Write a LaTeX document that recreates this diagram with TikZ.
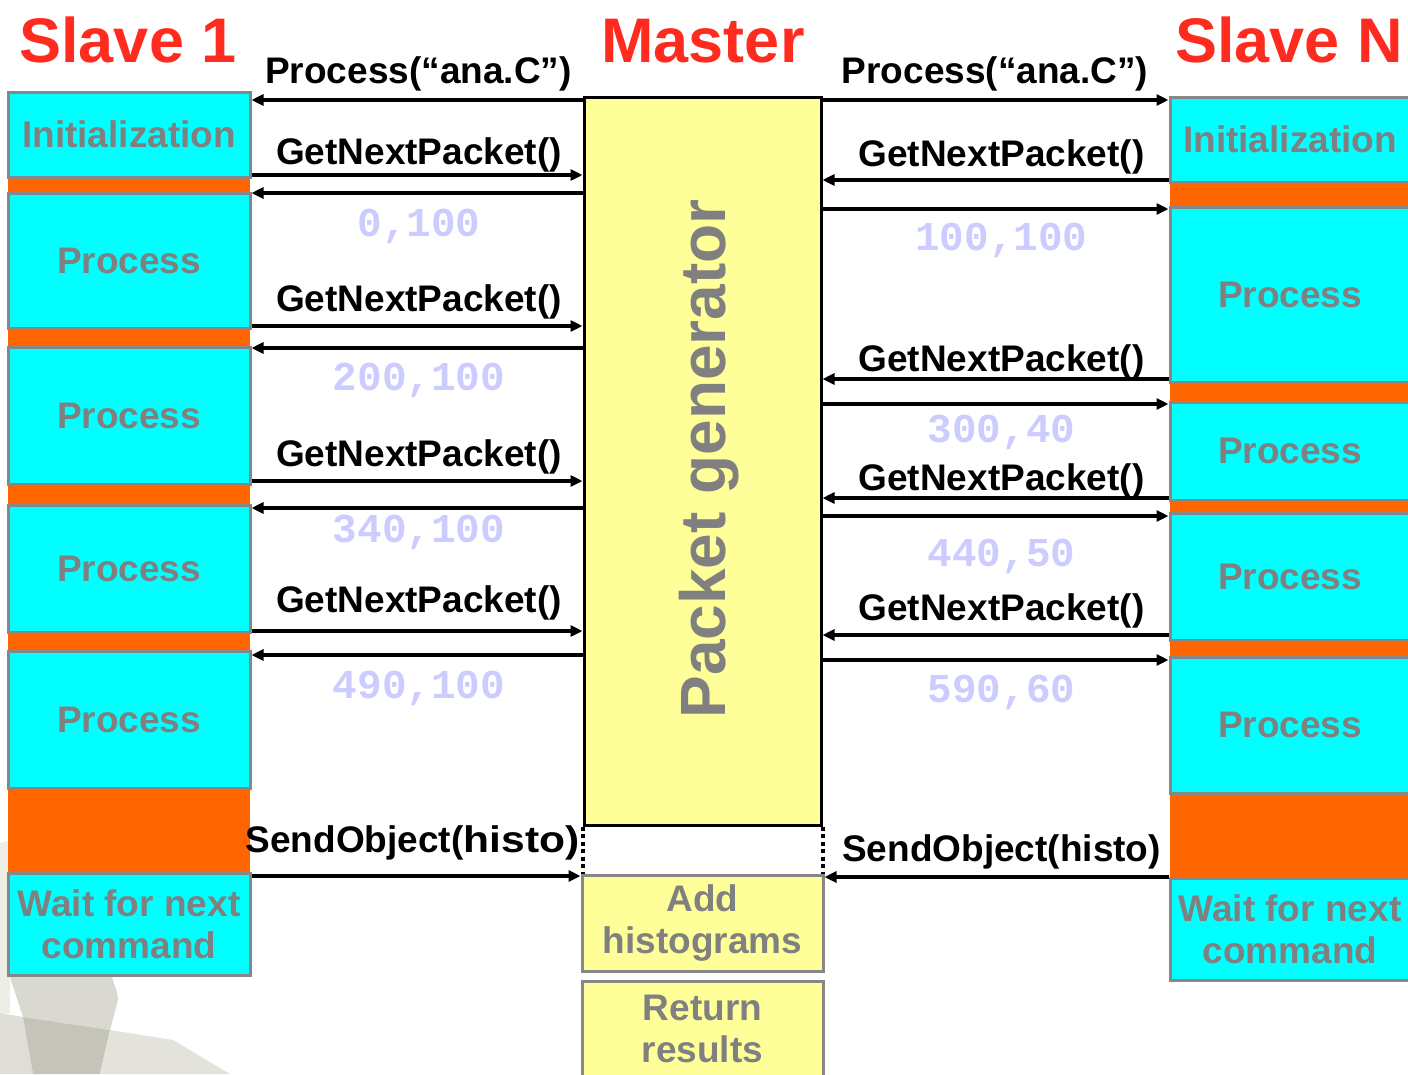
\documentclass[tikz,border=0pt]{standalone}
\usepackage{fontspec}
\usepackage{graphicx}
\setmainfont{Liberation Sans}
\newfontfamily\monofnt{Liberation Mono}
\usetikzlibrary{arrows.meta}

\definecolor{boxcyan}{HTML}{00FFFF}
\definecolor{boxorange}{HTML}{FF6600}
\definecolor{boxyellow}{HTML}{FFFF99}
\definecolor{edgegray}{HTML}{878787}
\definecolor{labgray}{HTML}{808080}
\definecolor{titlered}{HTML}{FF2B1F}
\definecolor{numblue}{HTML}{CCCCFF}
\definecolor{bgA}{HTML}{EEEEE6}
\definecolor{bgB}{HTML}{D9D9D2}
\definecolor{bgC}{HTML}{C4C4B8}
\definecolor{bgD}{HTML}{DEDED6}
\definecolor{bgE}{HTML}{E3E3DB}

\newcommand\ttlfnt{\bfseries\fontsize{63}{70}\selectfont}
\newcommand\msgfnt{\bfseries\fontsize{37}{41}\selectfont}
\newcommand\boxfnt{\bfseries\fontsize{37}{42}\selectfont}
\newcommand\genfnt{\bfseries\fontsize{64}{70}\selectfont}
\newcommand\numfnt{\monofnt\bfseries\fontsize{41}{45}\selectfont}

\tikzset{
  cybox/.style={draw=edgegray, line width=3pt, fill=boxcyan, text=labgray,
    font=\boxfnt, align=center, inner sep=0pt, minimum width=242pt},
  ylbox/.style={draw=edgegray, line width=3pt, fill=boxyellow, text=labgray,
    font=\boxfnt, align=center, inner sep=0pt, minimum width=241pt},
  msg/.style={font=\msgfnt, anchor=base, inner sep=0pt},
  num/.style={font=\numfnt, text=numblue, anchor=base, inner sep=0pt},
  ttl/.style={font=\ttlfnt, text=titlered, anchor=base, inner sep=0pt},
  arr/.style={line width=4.5pt, -{Triangle[length=12pt,width=11pt]}},
  dotline/.style={line width=4pt, dash pattern=on 4pt off 3.5pt},
}

\begin{document}
\begin{tikzpicture}[x=1pt,y=-1pt]
\useasboundingbox (0,0) rectangle (1408,1074);

% faint backdrop shapes, lower left corner
\fill[bgA] (0,843) -- (10,840) -- (10,1013) -- (0,1013) -- cycle;
\fill[bgB] (10,977) -- (112,977) -- (117,992) -- (118,1000) -- (110,1030) -- (23,1017) -- cycle;
\fill[bgD] (0,1013) -- (23,1017) -- (33,1074) -- (0,1074) -- cycle;
\fill[bgC] (23,1017) -- (110,1030) -- (100,1074) -- (33,1074) -- cycle;
\fill[bgE] (110,1030) -- (173,1040) -- (230,1074) -- (100,1074) -- cycle;

% titles
\node[ttl] (t1) at (128,62) {Slave 1};
\node[ttl] (tm) at (703,62) {Master};
\node[ttl] (tn) at (1289,62) {Slave N};

% slave 1 time line
\fill[boxorange] (8,177) rectangle (250,873);
\node[cybox, minimum height=85pt]  (s1init) at (129,134.5) {Initialization};
\node[cybox, minimum height=135pt] (s1pa)   at (129,260.5) {Process};
\node[cybox, minimum height=137pt] (s1pb)   at (129,415.5) {Process};
\node[cybox, minimum height=127pt] (s1pc)   at (129,568.5) {Process};
\node[cybox, minimum height=137pt] (s1pd)   at (129,719.5) {Process};
\node[cybox, minimum height=102pt] (s1wait) at (129,924)   {Wait for next\\command};

% slave N time line
\fill[boxorange] (1170,182) rectangle (1410,878);
\node[cybox, minimum width=240pt, minimum height=85pt]  (sninit) at (1290,139.5) {Initialization};
\node[cybox, minimum width=240pt, minimum height=175pt] (snpa)   at (1290,294.5) {Process};
\node[cybox, minimum width=240pt, minimum height=98pt]  (snpb)   at (1290,451)   {Process};
\node[cybox, minimum width=240pt, minimum height=127pt] (snpc)   at (1290,576.5) {Process};
\node[cybox, minimum width=240pt, minimum height=136pt] (snpd)   at (1290,725)   {Process};
\node[cybox, minimum width=240pt, minimum height=102pt] (snwait) at (1290,929)   {Wait for next\\command};

% master
\node[draw=black, line width=3pt, fill=boxyellow, minimum width=237pt,
      minimum height=728pt, inner sep=0pt] (master) at (702.5,461) {};
\node[font=\genfnt, text=labgray, rotate=90, anchor=base, inner sep=0pt]
      (gen) at (725,459) {Packet generator};
\node[ylbox, minimum height=96pt] (addh) at (702.5,923)    {Add\\histograms};
\node[ylbox, minimum height=95pt] (retr) at (702.5,1028.5) {Return\\results};

\draw[dotline] (master.south west) -- (master.south west |- addh.north);
\draw[dotline] (master.south east) -- (master.south east |- addh.north);

% messages between master and slave 1
\node[msg] (lm0) at (418.5,83) {Process(“ana.C”)};
\node[msg] (lm1) at (419,164) {GetNextPacket()};
\node[num] (ln1) at (419,236) {0,100};
\node[msg] (lm2) at (419,311) {GetNextPacket()};
\node[num] (ln2) at (419,390) {200,100};
\node[msg] (lm3) at (419,466) {GetNextPacket()};
\node[num] (ln3) at (419,542) {340,100};
\node[msg] (lm4) at (419,612) {GetNextPacket()};
\node[num] (ln4) at (419,698) {490,100};
\node[msg] (lm5) at (412.5,852) {SendObject(\scalebox{1.15}[1]{histo)}};

\draw[arr] (master.west |- 0,100) -- (s1init.east |- 0,100);
\draw[arr] (s1init.east |- 0,175) -- (master.west |- 0,175);
\draw[arr] (master.west |- 0,193) -- (s1pa.east |- 0,193);
\draw[arr] (s1pa.east |- 0,326) -- (master.west |- 0,326);
\draw[arr] (master.west |- 0,348) -- (s1pb.east |- 0,348);
\draw[arr] (s1pb.east |- 0,481) -- (master.west |- 0,481);
\draw[arr] (master.west |- 0,508) -- (s1pc.east |- 0,508);
\draw[arr] (s1pc.east |- 0,631) -- (master.west |- 0,631);
\draw[arr] (master.west |- 0,655) -- (s1pd.east |- 0,655);
\draw[arr] (s1wait.east |- 0,876) -- (addh.west |- 0,876);

% messages between master and slave N
\node[msg] (rm0) at (995,83) {Process(“ana.C”)};
\node[msg] (rm1) at (1001.5,166) {GetNextPacket()};
\node[num] (rn1) at (1001.5,250) {100,100};
\node[msg] (rm2) at (1001.5,371) {GetNextPacket()};
\node[num] (rn2) at (1001.5,442) {300,40};
\node[msg] (rm3) at (1001.5,490) {GetNextPacket()};
\node[num] (rn3) at (1001.5,566) {440,50};
\node[msg] (rm4) at (1001.5,620) {GetNextPacket()};
\node[num] (rn4) at (1001.5,702) {590,60};
\node[msg] (rm5) at (1001.5,861) {SendObject(histo)};

\draw[arr] (master.east |- 0,100) -- (sninit.west |- 0,100);
\draw[arr] (sninit.west |- 0,180) -- (master.east |- 0,180);
\draw[arr] (master.east |- 0,209) -- (snpa.west |- 0,209);
\draw[arr] (snpa.west |- 0,379) -- (master.east |- 0,379);
\draw[arr] (master.east |- 0,404) -- (snpb.west |- 0,404);
\draw[arr] (snpb.west |- 0,498) -- (master.east |- 0,498);
\draw[arr] (master.east |- 0,516) -- (snpc.west |- 0,516);
\draw[arr] (snpc.west |- 0,635) -- (master.east |- 0,635);
\draw[arr] (master.east |- 0,660) -- (snpd.west |- 0,660);
\draw[arr] (snwait.west |- 0,877) -- (addh.east |- 0,877);
\end{tikzpicture}
\end{document}
